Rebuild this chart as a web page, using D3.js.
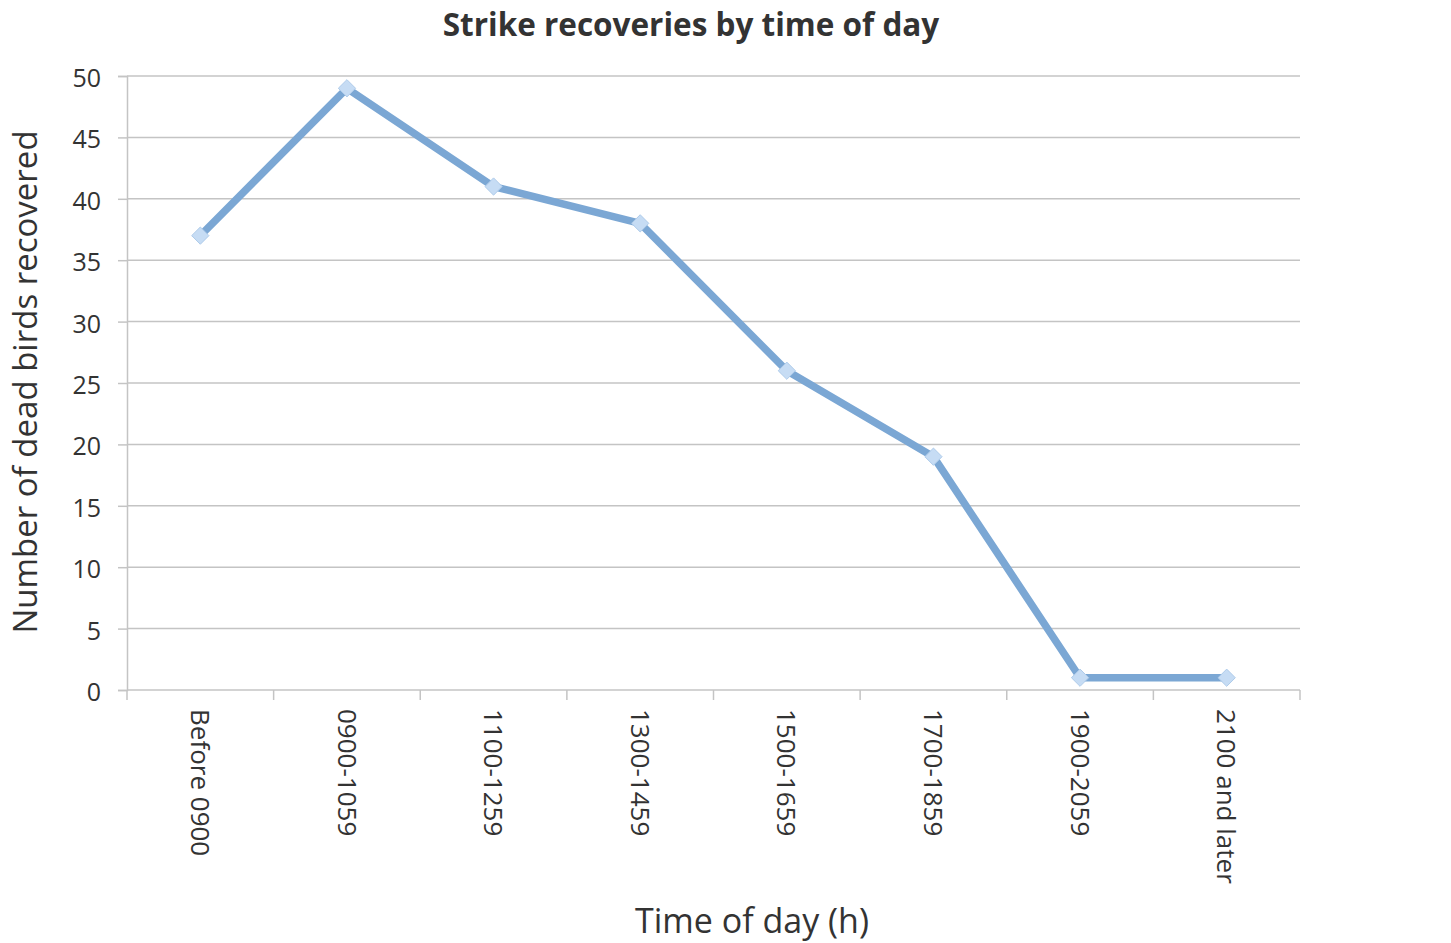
<!DOCTYPE html>
<html>
<head>
<meta charset="utf-8">
<script src="https://cdn.jsdelivr.net/npm/d3@7"></script>
<style>
  body { margin: 0; background: #fff; }
  svg, svg text { font-family: "Open Sans", "Noto Sans", sans-serif; }
</style>
</head>
<body>
<svg id="chart" width="1451" height="943"></svg>
<script>
const categories = ['Before 0900', '0900-1059', '1100-1259', '1300-1459', '1500-1659', '1700-1859', '1900-2059', '2100 and later']
const recoveries = [37, 49, 41, 38, 26, 19, 1, 1]
const yTicks = [0, 5, 10, 15, 20, 25, 30, 35, 40, 45, 50]

const margin = { top: 76, right: 151, bottom: 253, left: 127 }
const width = 1451 - margin.left - margin.right
const height = 943 - margin.top - margin.bottom

const svg = d3.select('#chart')
const g = svg.append('g').attr('transform', `translate(${margin.left},${margin.top})`)

const x = d3.scaleBand().domain(categories).range([0, width])
const y = d3.scaleLinear().domain([0, 50]).range([height, 0])

// gridlines
g.append('g')
  .selectAll('line')
  .data(yTicks.filter(d => d > 0))
  .join('line')
  .attr('x1', 0).attr('x2', width)
  .attr('y1', d => y(d)).attr('y2', d => y(d))
  .attr('stroke', '#c4c4c4').attr('stroke-width', 1.5)

// y axis
const yAxis = g.append('g')
  .call(d3.axisLeft(y).tickValues(yTicks).tickSize(9).tickPadding(17))
  .attr('font-family', null)
yAxis.select('.domain').attr('stroke', '#c4c4c4').attr('stroke-width', 1.5)
yAxis.selectAll('.tick line').attr('stroke', '#c4c4c4').attr('stroke-width', 1.5)
yAxis.selectAll('text').attr('font-size', 25).attr('fill', '#333').attr('dy', '0.42em')

// x axis: ticks at band boundaries
const xg = g.append('g').attr('transform', `translate(0,${height})`)
xg.append('line').attr('x1', 0).attr('x2', width).attr('stroke', '#c4c4c4').attr('stroke-width', 1.5)
xg.selectAll('.bound')
  .data(d3.range(categories.length + 1))
  .join('line')
  .attr('class', 'bound')
  .attr('x1', i => i * x.step()).attr('x2', i => i * x.step())
  .attr('y1', 0).attr('y2', 10)
  .attr('stroke', '#c4c4c4').attr('stroke-width', 1.5)
xg.selectAll('.lbl')
  .data(categories)
  .join('text')
  .attr('class', 'lbl')
  .attr('transform', d => `translate(${x(d) + x.bandwidth() / 2},19) rotate(90)`)
  .attr('dy', '0.36em')
  .attr('font-size', 26)
  .attr('fill', '#333')
  .text(d => d)

// line
const line = d3.line()
  .x((d, i) => x(categories[i]) + x.bandwidth() / 2)
  .y(d => y(d))

g.append('path')
  .datum(recoveries)
  .attr('fill', 'none')
  .attr('stroke', '#7ba7d4')
  .attr('stroke-width', 7.5)
  .attr('stroke-linejoin', 'round')
  .attr('d', line)

// diamond markers
g.selectAll('.marker')
  .data(recoveries)
  .join('path')
  .attr('class', 'marker')
  .attr('transform', (d, i) => `translate(${x(categories[i]) + x.bandwidth() / 2},${y(d)})`)
  .attr('d', d3.symbol(d3.symbolDiamond2, 190))
  .attr('fill', '#c6dcf4')
  .attr('stroke', '#aecbea')
  .attr('stroke-width', 1)

// titles
svg.append('text')
  .attr('x', 691).attr('y', 36)
  .attr('text-anchor', 'middle')
  .attr('font-size', 31.5).attr('font-weight', 'bold').attr('fill', '#333')
  .text('Strike recoveries by time of day')

svg.append('text')
  .attr('transform', 'translate(37,382) rotate(-90)')
  .attr('text-anchor', 'middle')
  .attr('font-size', 33).attr('fill', '#333')
  .text('Number of dead birds recovered')

svg.append('text')
  .attr('x', 752).attr('y', 933)
  .attr('text-anchor', 'middle')
  .attr('font-size', 34).attr('fill', '#333')
  .text('Time of day (h)')
</script>
</body>
</html>
